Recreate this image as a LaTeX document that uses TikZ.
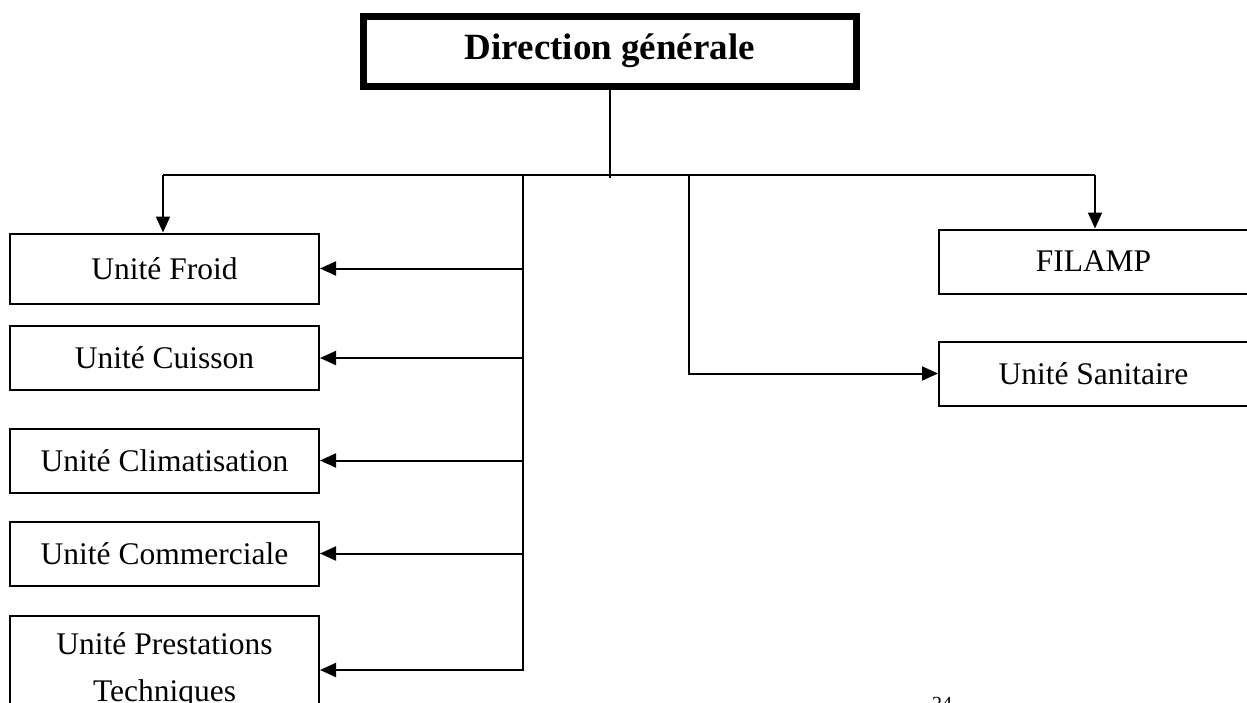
\documentclass[tikz,border=0pt]{standalone}
\usepackage{fontspec}
\setmainfont{Liberation Serif}
\usetikzlibrary{arrows.meta}

\begin{document}
\begin{tikzpicture}[x=0.5pt,y=-0.5pt,
    unit/.style={draw, line width=1pt, minimum width=154.5pt, minimum height=32pt,
        inner sep=0pt, align=center, font=\fontsize{15.75}{23.5}\selectfont},
    head/.style={draw, line width=3.5pt, minimum width=246.5pt, minimum height=35pt,
        inner sep=0pt, font=\fontsize{18.5}{22}\selectfont\bfseries},
    link/.style={line width=1pt},
    arr/.style={line width=1pt, -{Triangle[length=8pt,width=7pt]}}]
    \useasboundingbox (0,0) rectangle (1247,702);

    % boxes
    \node[head] (dg) at (610,51) {Direction générale};
    \node[unit, minimum height=35pt] (froid) at (164.5,268.5) {Unité Froid};
    \node[unit] (cuisson) at (164.5,358) {Unité Cuisson};
    \node[unit] (clim) at (164.5,460.5) {Unité Climatisation};
    \node[unit] (comm) at (164.5,553.5) {Unité Commerciale};
    \node[unit, minimum height=54.5pt] (prest) at (164.5,670) {Unité Prestations\\Techniques};
    \node[unit] (filamp) at (1093.5,261.5) {FILAMP};
    \node[unit] (sanit) at (1093.5,373.5) {Unité Sanitaire};
    \node[anchor=base, inner sep=0pt, font=\fontsize{10}{12}\selectfont] (page) at (942,710) {24};

    % bus
    \coordinate (knee) at (610,178);
    \coordinate (busL) at (163,175);
    \coordinate (busR) at (1095,175);
    \coordinate (spineL) at (523,175);
    \coordinate (spineR) at (689,175);

    \draw[link] (dg.south) -- (knee);
    \draw[link] (busL) -- (busR);
    \draw[arr] (busL) -- (busL |- froid.north);
    \draw[arr] (busR) -- (busR |- filamp.north);

    \draw[arr] (spineL) |- (prest.east);
    \foreach \n in {froid,cuisson,clim,comm}
        \draw[arr] (spineL |- \n.east) -- (\n.east);

    \draw[arr] (spineR) |- (sanit.west);
\end{tikzpicture}
\end{document}
